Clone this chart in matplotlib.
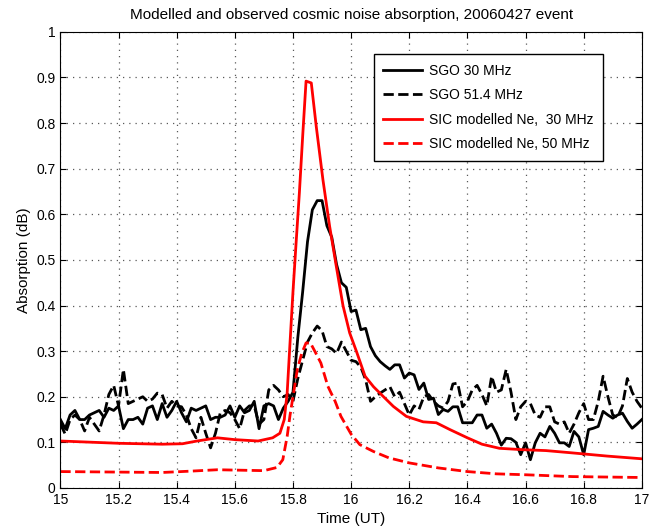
import numpy as np
import matplotlib
matplotlib.use("Agg")
import matplotlib.pyplot as plt

plt.rcParams['font.family'] = ['Liberation Sans', 'DejaVu Sans']

# observed absorption, one sample per minute from 15:00 to 17:00 UT
t_obs = 15.0 + np.arange(121) / 60.0

sgo_30 = [0.15, 0.13, 0.16, 0.17, 0.15, 0.15, 0.16, 0.165, 0.17, 0.155,
          0.175, 0.17, 0.18, 0.13, 0.15, 0.15, 0.155, 0.14, 0.175, 0.18,
          0.15, 0.185, 0.155, 0.17, 0.19, 0.165, 0.145, 0.175, 0.17, 0.175,
          0.18, 0.15, 0.155, 0.155, 0.16, 0.18, 0.155, 0.18, 0.165, 0.17,
          0.19, 0.13, 0.18, 0.185, 0.18, 0.15, 0.175, 0.19, 0.21, 0.33,
          0.43, 0.54, 0.61, 0.63, 0.63, 0.575, 0.55, 0.49, 0.45, 0.44,
          0.387, 0.39, 0.347, 0.35, 0.31, 0.29, 0.277, 0.268, 0.26, 0.27,
          0.27, 0.241, 0.252, 0.248, 0.216, 0.23, 0.194, 0.197, 0.161, 0.172,
          0.168, 0.178, 0.178, 0.143, 0.143, 0.143, 0.16, 0.16, 0.131, 0.14,
          0.12, 0.094, 0.109, 0.108, 0.10, 0.073, 0.099, 0.062, 0.099, 0.12,
          0.112, 0.135, 0.12, 0.099, 0.099, 0.091, 0.124, 0.112, 0.073, 0.128,
          0.131, 0.135, 0.168, 0.16, 0.153, 0.16, 0.164, 0.146, 0.131, 0.14,
          0.15]

sgo_51 = [0.14, 0.118, 0.15, 0.16, 0.15, 0.125, 0.155, 0.14, 0.125, 0.16,
          0.205, 0.225, 0.18, 0.26, 0.185, 0.19, 0.195, 0.2, 0.19, 0.195,
          0.208, 0.205, 0.175, 0.19, 0.18, 0.178, 0.16, 0.13, 0.11, 0.155,
          0.12, 0.088, 0.12, 0.165, 0.17, 0.165, 0.15, 0.13, 0.17, 0.18,
          0.18, 0.14, 0.15, 0.215, 0.225, 0.215, 0.2, 0.205, 0.19, 0.24,
          0.28, 0.32, 0.34, 0.355, 0.345, 0.31, 0.305, 0.295, 0.32, 0.30,
          0.28, 0.277, 0.265, 0.237, 0.19, 0.2, 0.208, 0.215, 0.222, 0.2,
          0.21, 0.185, 0.16, 0.18, 0.172, 0.2, 0.205, 0.19, 0.18, 0.175,
          0.19, 0.228, 0.23, 0.178, 0.19, 0.215, 0.225, 0.205, 0.18, 0.245,
          0.21, 0.215, 0.26, 0.21, 0.15, 0.178, 0.19, 0.185, 0.16, 0.155,
          0.178, 0.178, 0.145, 0.14, 0.145, 0.12, 0.14, 0.165, 0.185, 0.15,
          0.15, 0.19, 0.245, 0.2, 0.16, 0.155, 0.18, 0.24, 0.21, 0.19,
          0.175]

# SIC model output
t_sic30 = [15.0, 15.2, 15.35, 15.42, 15.47, 15.54, 15.6, 15.68, 15.73, 15.755,
           15.77, 15.78, 15.79, 15.80, 15.81, 15.822, 15.834, 15.845, 15.863, 15.88,
           15.903, 15.926, 15.949, 15.972, 15.995, 16.018, 16.048, 16.077, 16.11, 16.145,
           16.19, 16.248, 16.293, 16.34, 16.4, 16.45, 16.51, 16.59, 16.67, 16.76,
           16.88, 17.0]
sic_30 = [0.103, 0.098, 0.096, 0.097, 0.103, 0.11, 0.106, 0.103, 0.11, 0.12,
          0.15, 0.208, 0.32, 0.43, 0.53, 0.647, 0.778, 0.892, 0.888, 0.793,
          0.676, 0.574, 0.486, 0.40, 0.34, 0.30, 0.245, 0.222, 0.201, 0.179,
          0.157, 0.145, 0.143, 0.128, 0.11, 0.096, 0.087, 0.084, 0.082, 0.077,
          0.07, 0.064]

t_sic50 = [15.0, 15.35, 15.45, 15.54, 15.7, 15.745, 15.765, 15.78, 15.79, 15.80,
           15.815, 15.83, 15.845, 15.86, 15.875, 15.896, 15.92, 15.945, 15.965, 16.0,
           16.03, 16.077, 16.13, 16.2, 16.3, 16.4, 16.5, 16.6, 16.76, 17.0]
sic_50 = [0.036, 0.034, 0.037, 0.04, 0.038, 0.045, 0.062, 0.113, 0.16, 0.2,
          0.26, 0.295, 0.318, 0.318, 0.3, 0.274, 0.223, 0.19, 0.157, 0.118,
          0.095, 0.08, 0.066, 0.055, 0.044, 0.036, 0.031, 0.029, 0.025, 0.023]

fig = plt.figure(figsize=(6.6, 5.31), dpi=100)
ax = fig.add_axes([0.0915, 0.081, 0.881, 0.859])

ax.plot(t_obs, sgo_30, 'k-', lw=2, label='SGO 30 MHz')
ax.plot(t_obs, sgo_51, 'k--', lw=2, label='SGO 51.4 MHz')
ax.plot(t_sic30, sic_30, 'r-', lw=2, label='SIC modelled Ne,  30 MHz')
ax.plot(t_sic50, sic_50, 'r--', lw=2, label='SIC modelled Ne, 50 MHz')

ax.set_xlim(15, 17)
ax.set_ylim(0, 1)
ax.set_xticks(np.arange(15, 17.01, 0.2))
ax.set_xticklabels(['15', '15.2', '15.4', '15.6', '15.8', '16', '16.2', '16.4', '16.6', '16.8', '17'])
ax.set_yticks(np.arange(0, 1.01, 0.1))
ax.set_yticklabels(['0', '0.1', '0.2', '0.3', '0.4', '0.5', '0.6', '0.7', '0.8', '0.9', '1'])
ax.tick_params(direction='in', length=4, labelsize=10, top=True, right=True)
ax.grid(True, linestyle=(0, (1, 4)), color='0.35', lw=0.9)

ax.set_title('Modelled and observed cosmic noise absorption, 20060427 event', fontsize=11, pad=9)
ax.set_xlabel('Time (UT)', fontsize=11)
ax.set_ylabel('Absorption (dB)', fontsize=11)

leg = ax.legend(loc='upper right', bbox_to_anchor=(0.934, 0.951), fontsize=10,
                fancybox=False, framealpha=1, edgecolor='k', handlelength=2.8,
                handletextpad=0.5, borderpad=0.7, labelspacing=0.75, borderaxespad=0)
leg.get_frame().set_linewidth(1)

fig.savefig('out.png', dpi=100)
